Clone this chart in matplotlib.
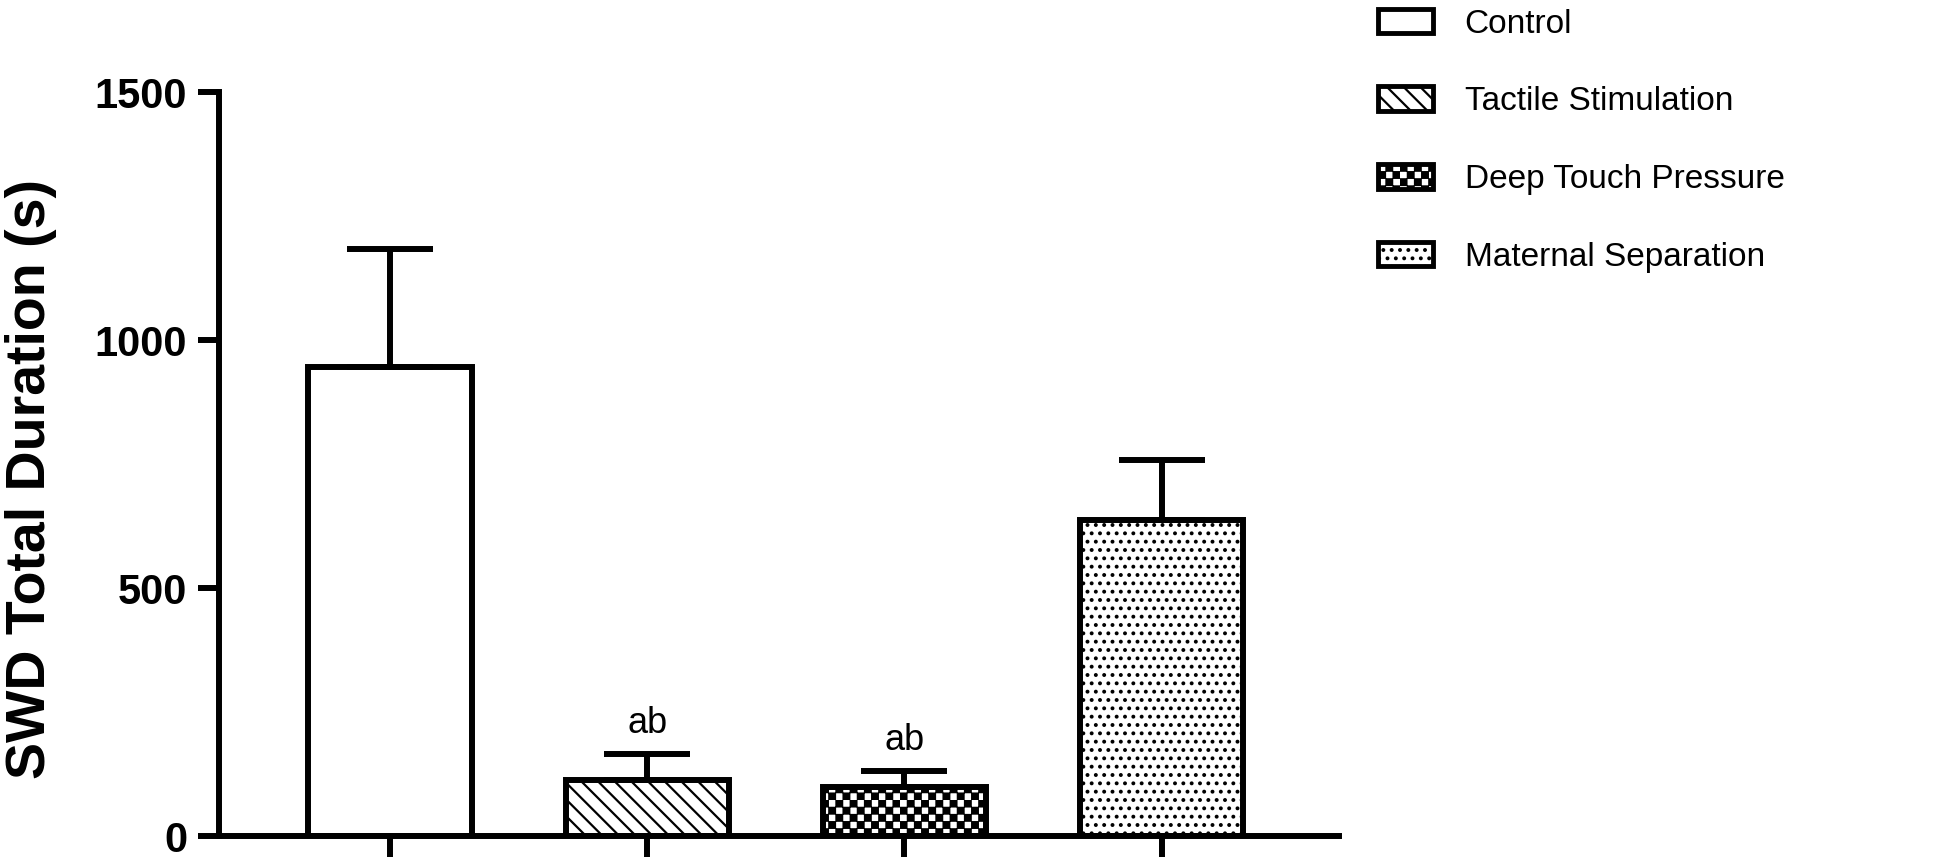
import numpy as np
import matplotlib
matplotlib.use("Agg")
import matplotlib.pyplot as plt
from matplotlib import hatch as mhatch
from matplotlib.path import Path

# data
groups = ["Control", "Tactile Stimulation", "Deep Touch Pressure", "Maternal Separation"]
means = [946, 113, 99, 637]
sem = [237, 52, 32, 121]
hatches = ["", "\\\\", "*", ".."]
marks = ["", "ab", "ab", ""]
y_ticks = [0, 500, 1000, 1500]


# checkerboard fill for the deep touch group (matplotlib has no built-in one),
# hooked onto the '*' hatch character
class CheckerHatch(mhatch.HatchPatternBase):
    def __init__(self, hatch, density):
        self.n = 14 * hatch.count('*')
        self.num_vertices = 5 * (self.n * self.n // 2)

    def set_vertices_and_codes(self, vertices, codes):
        cell = 1.0 / self.n
        s = cell * 0.8
        k = 0
        for i in range(self.n):
            for j in range(self.n):
                if (i + j) % 2:
                    continue
                x0 = j * cell + (cell - s) / 2
                y0 = i * cell + (cell - s) / 2
                vertices[k:k + 5] = [(x0, y0), (x0 + s, y0), (x0 + s, y0 + s),
                                     (x0, y0 + s), (x0, y0)]
                codes[k:k + 5] = [Path.MOVETO, Path.LINETO, Path.LINETO,
                                  Path.LINETO, Path.CLOSEPOLY]
                k += 5


mhatch._hatch_types = [CheckerHatch if t is mhatch.Stars else t
                       for t in mhatch._hatch_types]

plt.rcParams['font.family'] = ['Liberation Sans', 'DejaVu Sans']
plt.rcParams['hatch.linewidth'] = 1.6

LW = 4.3

fig = plt.figure(figsize=(19.5, 8.61), dpi=100)
ax = fig.add_axes([0.1123, 0.029, 0.5744, 0.8641])

x = np.arange(len(groups))
for i in range(len(groups)):
    ax.bar(x[i], means[i], width=0.635, color='white', edgecolor='black',
           linewidth=LW, hatch=hatches[i], label=groups[i], zorder=2)

ax.errorbar(x, means, yerr=[np.zeros(len(sem)), sem], fmt='none', ecolor='black',
            elinewidth=LW, capsize=31, capthick=LW, zorder=3)

for i in range(len(groups)):
    if marks[i]:
        ax.annotate(marks[i], (x[i], means[i] + sem[i]), xytext=(0, 15),
                    textcoords='offset points', ha='center', va='baseline',
                    fontsize=26)

ax.set_xlim(-0.665, 3.69)
ax.set_ylim(0, 1500)
ax.set_xticks(x)
ax.set_xticklabels([])
ax.set_yticks(y_ticks)
ax.set_yticklabels([str(v) for v in y_ticks], fontsize=30, fontweight='bold')
ax.tick_params(axis='both', length=15, width=LW, pad=8)

for side in ['top', 'right']:
    ax.spines[side].set_visible(False)
for side in ['left', 'bottom']:
    ax.spines[side].set_linewidth(LW)
    ax.spines[side].set_capstyle('projecting')

ax.set_ylabel("SWD Total Duration (s)", fontsize=40, fontweight='bold')
ax.yaxis.set_label_coords(-0.145, 0.48)

handles, labels = ax.get_legend_handles_labels()
leg = fig.legend(handles, labels, loc='upper left', bbox_to_anchor=(0.7067, 0.99),
                 frameon=False, fontsize=24, handlelength=1.65, handleheight=0.75,
                 handletextpad=0.95, labelspacing=1.4, borderpad=0, borderaxespad=0)
for h in leg.legend_handles:
    h.set_linewidth(3.5)

fig.savefig("out.png", dpi=100)
